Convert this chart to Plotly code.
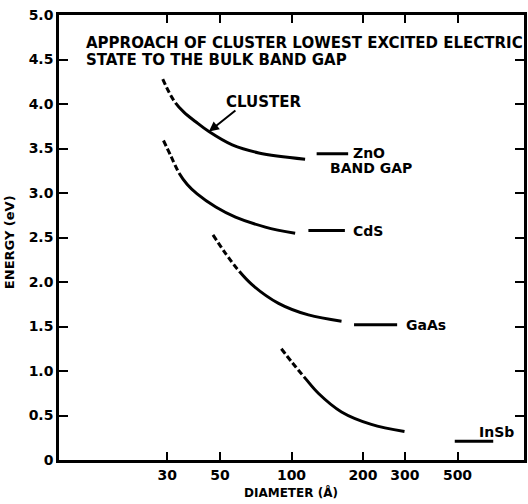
import numpy as np
import plotly.graph_objects as go

# ---- data (diameter in Å, energy in eV) ----
zno_d = [28.7, 30.4, 32.4, 35.3, 39.5, 44.9, 56.3, 72.8, 114.1]
zno_e = [4.28, 4.14, 4.015, 3.905, 3.80, 3.69, 3.54, 3.45, 3.38]
zno_dash_n = 3
zno_bulk_d = [127.6, 173.2]
zno_bulk_e = [3.44, 3.44]

cds_d = [28.9, 31.0, 33.7, 36.4, 40.05, 48.0, 58.1, 77.6, 103.6]
cds_e = [3.59, 3.42, 3.22, 3.096, 2.99, 2.842, 2.729, 2.617, 2.547]
cds_dash_n = 3
cds_bulk_d = [117.8, 167.8]
cds_bulk_e = [2.58, 2.58]

gaas_d = [46.7, 52.8, 59.6, 68.2, 88.2, 117.8, 162.4]
gaas_e = [2.53, 2.32, 2.135, 1.97, 1.76, 1.63, 1.56]
gaas_dash_n = 3
gaas_bulk_d = [183.4, 278.5]
gaas_bulk_e = [1.52, 1.52]

insb_d = [90.6, 101.0, 114.1, 129.7, 162.4, 216.8, 299.1]
insb_e = [1.25, 1.09, 0.92, 0.75, 0.54, 0.40, 0.32]
insb_dash_n = 3
insb_bulk_d = [486.9, 707.0]
insb_bulk_e = [0.21, 0.21]

x_ticks = [30, 50, 100, 200, 300, 500]
x_ticktext = ["30", "50", "100", "200", "300", "500"]
y_ticks = [0, 0.5, 1.0, 1.5, 2.0, 2.5, 3.0, 3.5, 4.0, 4.5, 5.0]
y_ticktext = ["0", "0.5", "1.0", "1.5", "2.0", "2.5", "3.0", "3.5", "4.0", "4.5", "5.0"]

title_lines = ["APPROACH OF CLUSTER LOWEST EXCITED ELECTRIC",
               "STATE TO THE BULK BAND GAP"]

FONT = "DejaVu Sans"
LW = 3
XR = [1.021, 2.979]
YR = [0, 5]
W, H = 528, 504
M = dict(l=59, r=1, t=15, b=44)
PW = W - M["l"] - M["r"]
PH = H - M["t"] - M["b"]
DASH, GAP = 6, 3

fig = go.Figure()


def to_px(d, e):
    px = (np.log10(np.asarray(d, float)) - XR[0]) / (XR[1] - XR[0]) * PW
    py = (np.asarray(e, float) - YR[0]) / (YR[1] - YR[0]) * PH
    return px, py


def add_curve(d, e, n):
    # full smooth solid curve
    fig.add_trace(go.Scatter(x=d, y=e, mode="lines",
                             line=dict(color="black", width=LW, shape="spline"),
                             hoverinfo="skip", showlegend=False))
    # white gaps over the first (dashed) part, drawn on the identical spline path
    px, py = to_px(d[:n], e[:n])
    length = float(np.sum(np.hypot(np.diff(px), np.diff(py))))
    reps = max(1, int(round(length / (DASH + GAP))))
    pattern = [0, DASH]
    for _ in range(reps):
        pattern += [GAP, DASH]
    pattern += [0, 3000]
    dash = ",".join(f"{v}px" for v in pattern)
    fig.add_trace(go.Scatter(x=d, y=e, mode="lines",
                             line=dict(color="white", width=LW + 2, shape="spline", dash=dash),
                             hoverinfo="skip", showlegend=False))


def add_bulk(d, e):
    fig.add_trace(go.Scatter(x=d, y=e, mode="lines",
                             line=dict(color="black", width=LW),
                             hoverinfo="skip", showlegend=False))


add_curve(zno_d, zno_e, zno_dash_n)
add_curve(cds_d, cds_e, cds_dash_n)
add_curve(gaas_d, gaas_e, gaas_dash_n)
add_curve(insb_d, insb_e, insb_dash_n)
add_bulk(zno_bulk_d, zno_bulk_e)
add_bulk(cds_bulk_d, cds_bulk_e)
add_bulk(gaas_bulk_d, gaas_bulk_e)
add_bulk(insb_bulk_d, insb_bulk_e)


def f(size):
    return dict(family=FONT, size=size, color="black", weight="bold")


lg = np.log10


def ann(text, x, y, size=14, xanchor="left"):
    fig.add_annotation(text=text, x=lg(x), y=y, xref="x", yref="y",
                       showarrow=False, xanchor=xanchor, yanchor="middle",
                       font=f(size))


# title inside the plot
fig.add_annotation(text=title_lines[0], x=0.0534, y=4.685, xref="paper", yref="y",
                   showarrow=False, xanchor="left", yanchor="middle", font=f(15))
fig.add_annotation(text=title_lines[1], x=0.0534, y=4.494, xref="paper", yref="y",
                   showarrow=False, xanchor="left", yanchor="middle", font=f(15))

# curve labels
ann("CLUSTER", 76.3, 4.02, size=15, xanchor="center")
fig.add_annotation(x=lg(44.9), y=3.69, ax=lg(58.9), ay=3.94, xref="x", yref="y",
                   axref="x", ayref="y", showarrow=True, arrowhead=2, arrowsize=1,
                   arrowwidth=2, arrowcolor="black", text="")
ann("ZnO", 178.3, 3.45)
ann("BAND GAP", 215.1, 3.28, xanchor="center")
ann("CdS", 178.3, 2.57)
ann("GaAs", 297.1, 1.52)
ann("InSb", 606, 0.315)

# axis titles
fig.add_annotation(text="DIAMETER (Å)", x=0.498, y=-0.072, xref="paper", yref="paper",
                   showarrow=False, xanchor="center", yanchor="middle", font=f(12))
fig.add_annotation(text="ENERGY (eV)", x=-0.105, y=0.49, xref="paper", yref="paper",
                   showarrow=False, xanchor="center", yanchor="middle", textangle=-90,
                   font=f(13))

fig.update_xaxes(type="log", range=XR, tickvals=x_ticks, ticktext=x_ticktext,
                 ticks="inside", ticklen=8, tickwidth=2, tickcolor="black",
                 showline=True, linecolor="black", linewidth=2.5, mirror="ticks",
                 showgrid=False, zeroline=False, tickfont=f(14))
fig.update_yaxes(range=YR, tickvals=y_ticks, ticktext=y_ticktext,
                 ticks="inside", ticklen=9, tickwidth=2, tickcolor="black",
                 showline=True, linecolor="black", linewidth=2.5, mirror="ticks",
                 showgrid=False, zeroline=False, tickfont=f(14))

fig.update_layout(width=W, height=H, margin=M,
                  plot_bgcolor="white", paper_bgcolor="white", showlegend=False)

fig.write_html("out.html")
